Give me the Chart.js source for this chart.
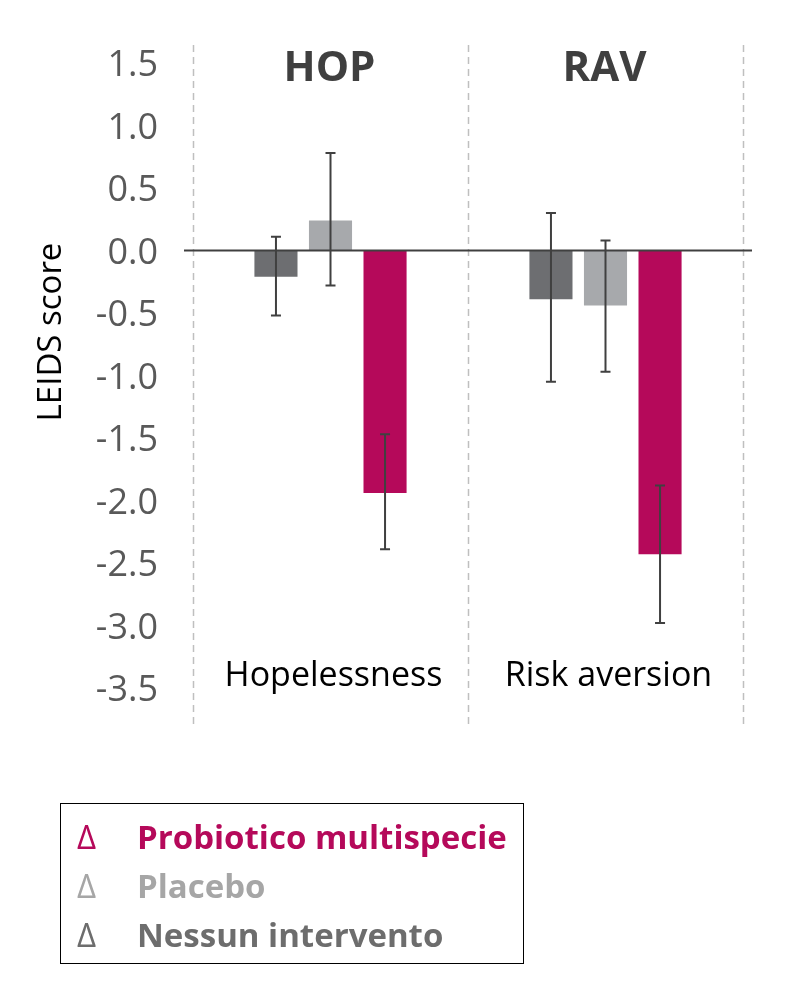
<!DOCTYPE html>
<html>
<head>
<meta charset="utf-8">
<script src="https://cdn.jsdelivr.net/npm/chart.js@4/dist/chart.umd.min.js"></script>
<style>
  body { margin: 0; background: #fff; }
  #wrap { position: relative; width: 799px; height: 1001px; }
  #chart { position: absolute; left: 0; top: 0; }
  #legend {
    position: absolute; left: 60px; top: 803px; width: 462px; height: 159px;
    border: 1.5px solid #000; font-family: "Open Sans", sans-serif;
  }
  .row { position: absolute; left: 0; height: 49px; line-height: 49px; font-size: 33px; white-space: nowrap; }
  .row .d { position: absolute; left: 16px; font-weight: 400; }
  .row .t { position: absolute; left: 76px; font-weight: 700; }
</style>
</head>
<body>
<div id="wrap">
  <canvas id="chart" width="799" height="1001"></canvas>
  <div id="legend"></div>
</div>
<script>
// data
const categories = ['Hopelessness', 'Risk aversion'];
const headers = ['HOP', 'RAV'];
const seriesNames = ['Nessun intervento', 'Placebo', 'Probiotico multispecie'];
const nessun = [-0.21, -0.39];
const nessunLow = [-0.52, -1.05];
const nessunHigh = [0.11, 0.30];
const placebo = [0.24, -0.44];
const placeboLow = [-0.28, -0.97];
const placeboHigh = [0.78, 0.08];
const probiotico = [-1.94, -2.43];
const probioticoLow = [-2.39, -2.98];
const probioticoHigh = [-1.47, -1.88];
const yTicks = [1.5, 1.0, 0.5, 0.0, -0.5, -1.0, -1.5, -2.0, -2.5, -3.0, -3.5];

const colors = ['#6d6e71', '#a7a9ac', '#b5095a'];
const lows = [nessunLow, placeboLow, probioticoLow];
const highs = [nessunHigh, placeboHigh, probioticoHigh];

// legend (top to bottom: probiotico, placebo, nessun)
const legendEl = document.getElementById('legend');
const legendOrder = [2, 1, 0];
const legendColors = ['#6d6d6d', '#a6a6a6', '#b5095a'];
legendOrder.forEach((i, k) => {
  const row = document.createElement('div');
  row.className = 'row';
  row.style.top = (8 + k * 49) + 'px';
  row.style.color = legendColors[i];
  row.innerHTML = '<span class="d">\u0394</span><span class="t"></span>';
  row.querySelector('.t').textContent = seriesNames[i];
  legendEl.appendChild(row);
});

const decorations = {
  id: 'decorations',
  beforeDatasetsDraw(chart) {
    const { ctx, chartArea } = chart;
    const step = (chartArea.right - chartArea.left) / categories.length;
    ctx.save();
    ctx.strokeStyle = '#bfbfbf';
    ctx.lineWidth = 1.5;
    ctx.setLineDash([7, 5]);
    for (let i = 0; i <= categories.length; i++) {
      const px = Math.round(chartArea.left + i * step) + 0.5;
      ctx.beginPath();
      ctx.moveTo(px, 45);
      ctx.lineTo(px, 728);
      ctx.stroke();
    }
    ctx.restore();
  },
  afterDatasetsDraw(chart) {
    const { ctx, chartArea, scales: { x, y } } = chart;
    ctx.save();
    // zero line
    ctx.strokeStyle = '#404040';
    ctx.lineWidth = 2;
    const y0 = y.getPixelForValue(0);
    ctx.beginPath();
    ctx.moveTo(chartArea.left - 9, y0);
    ctx.lineTo(chartArea.right + 9, y0);
    ctx.stroke();
    // error bars
    ctx.lineWidth = 2;
    chart.data.datasets.forEach((ds, di) => {
      const meta = chart.getDatasetMeta(di);
      meta.data.forEach((bar, i) => {
        const px = bar.x;
        const yl = y.getPixelForValue(lows[di][i]);
        const yh = y.getPixelForValue(highs[di][i]);
        ctx.beginPath();
        ctx.moveTo(px, yh); ctx.lineTo(px, yl);
        ctx.moveTo(px - 5, yh); ctx.lineTo(px + 5, yh);
        ctx.moveTo(px - 5, yl); ctx.lineTo(px + 5, yl);
        ctx.stroke();
      });
    });
    // headers and category labels
    ctx.textAlign = 'center';
    ctx.textBaseline = 'middle';
    categories.forEach((c, i) => {
      const cx = x.getPixelForValue(i);
      ctx.fillStyle = '#3f3f3f';
      ctx.font = 'bold 42px "Open Sans"';
      ctx.fillText(headers[i], cx - 1, 69);
      ctx.fillStyle = '#000';
      ctx.font = '34px "Open Sans"';
      ctx.fillText(c, cx + 3, 676);
    });
    // y title
    ctx.translate(52, 332);
    ctx.rotate(-Math.PI / 2);
    ctx.fillStyle = '#000';
    ctx.font = '33px "Open Sans"';
    ctx.fillText('LEIDS score', 0, 0);
    ctx.restore();
  }
};

new Chart(document.getElementById('chart'), {
  type: 'bar',
  data: {
    labels: categories,
    datasets: [
      { label: seriesNames[0], data: nessun, backgroundColor: colors[0] },
      { label: seriesNames[1], data: placebo, backgroundColor: colors[1] },
      { label: seriesNames[2], data: probiotico, backgroundColor: colors[2] }
    ]
  },
  options: {
    responsive: false,
    animation: false,
    devicePixelRatio: 1,
    layout: { padding: { top: 63, right: 56, bottom: 313, left: 0 } },
    categoryPercentage: 0.595,
    barPercentage: 0.79,
    plugins: { legend: { display: false }, tooltip: { enabled: false } },
    scales: {
      x: { display: false },
      y: {
        min: -3.5,
        max: 1.5,
        afterFit(scale) { scale.width = 193; },
        afterBuildTicks(scale) { scale.ticks = yTicks.map(v => ({ value: v })); },
        grid: { display: false, drawTicks: false },
        border: { display: false },
        ticks: {
          padding: 35,
          labelOffset: 3,
          color: '#595959',
          font: { family: 'Open Sans', size: 36 },
          callback: v => v.toFixed(1)
        }
      }
    }
  },
  plugins: [decorations]
});
</script>
</body>
</html>
